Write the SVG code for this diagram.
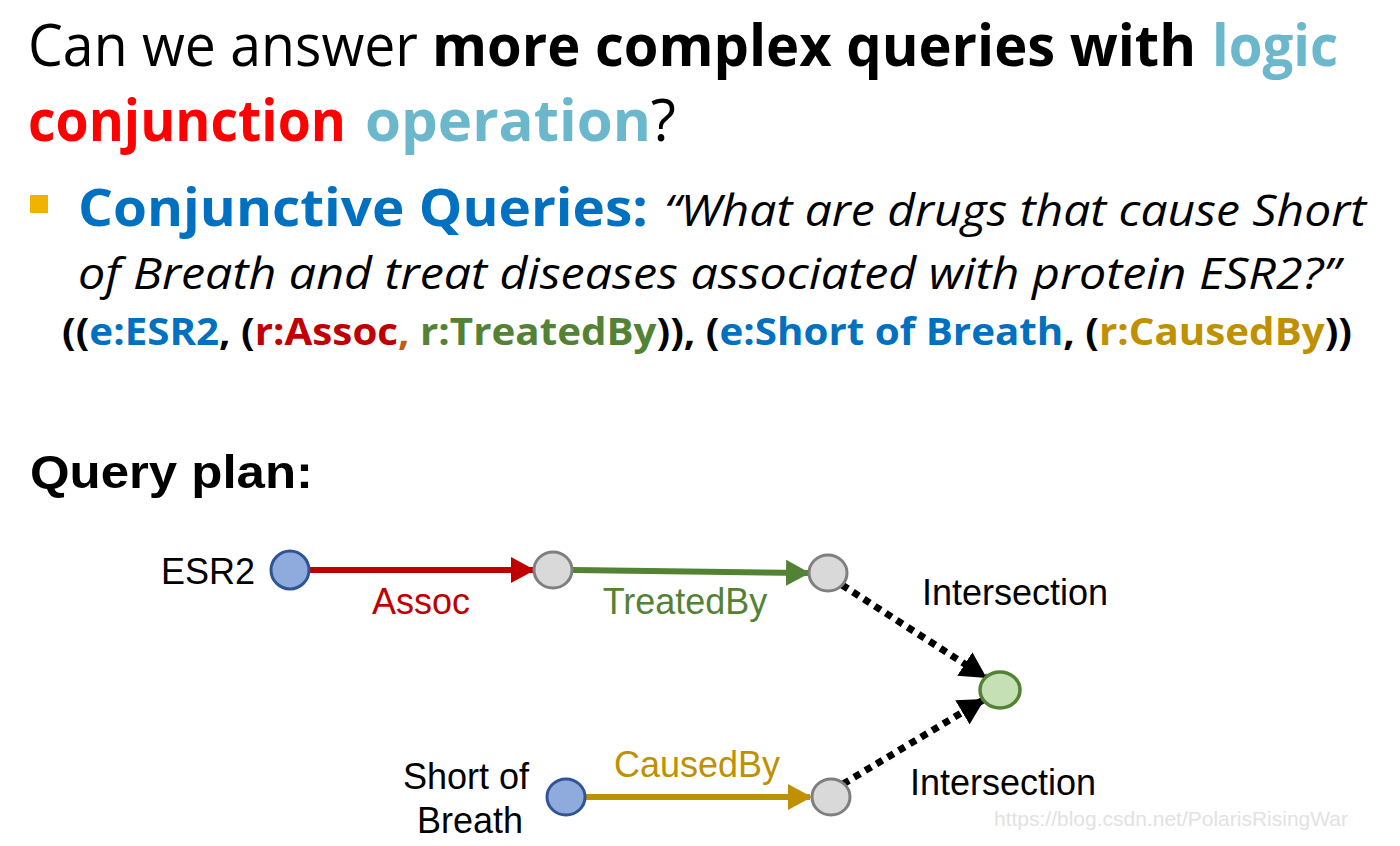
<svg xmlns="http://www.w3.org/2000/svg" width="1400" height="846" viewBox="0 0 1400 846">
<defs>
<style>
.t{font-family:"Open Sans","Lato","Liberation Sans",sans-serif}
.a{font-family:"Liberation Sans",Arial,sans-serif;font-size:36px}
.b{font-weight:bold}
.node-blue{fill:#8faadc;stroke:#2f5597;stroke-width:3}
.node-gray{fill:#d9d9d9;stroke:#7f7f7f;stroke-width:3}
.node-green{fill:#c5e0b4;stroke:#548235;stroke-width:3.5}
</style>
<marker id="mr" markerUnits="userSpaceOnUse" markerWidth="24" markerHeight="26" refX="22" refY="13" orient="auto"><path d="M0,0 L24,13 L0,26 Z" fill="#c00000"/></marker>
<marker id="mg" markerUnits="userSpaceOnUse" markerWidth="24" markerHeight="26" refX="22" refY="13" orient="auto"><path d="M0,0 L24,13 L0,26 Z" fill="#548235"/></marker>
<marker id="my" markerUnits="userSpaceOnUse" markerWidth="24" markerHeight="26" refX="22" refY="13" orient="auto"><path d="M0,0 L24,13 L0,26 Z" fill="#bf9000"/></marker>
<marker id="mk" markerUnits="userSpaceOnUse" markerWidth="26" markerHeight="28" refX="24" refY="14" orient="auto"><path d="M0,0 L26,14 L0,28 Z" fill="#000"/></marker>
</defs>
<rect width="1400" height="846" fill="#fff"/>

<g id="title">
<text class="t" x="28" y="66" font-size="58" textLength="390" lengthAdjust="spacingAndGlyphs">Can we answer</text>
<text class="t b" x="432" y="66" font-size="58" textLength="764" lengthAdjust="spacingAndGlyphs">more complex queries with</text>
<text class="t b" x="1212" y="66" font-size="58" fill="#6bb7cb" textLength="126" lengthAdjust="spacingAndGlyphs">logic</text>
<text class="t b" x="28" y="141" font-size="58" fill="#ff0000" textLength="318" lengthAdjust="spacingAndGlyphs">conjunction</text>
<text class="t b" x="365" y="141" font-size="58" fill="#6bb7cb" textLength="311" lengthAdjust="spacingAndGlyphs">operation<tspan fill="#000" font-weight="normal">?</tspan></text>
</g>

<g id="bullet">
<rect x="30" y="195" width="18" height="18" fill="#f0b400"/>
<text class="t b" x="78" y="226" font-size="52" fill="#0070c0" textLength="570" lengthAdjust="spacingAndGlyphs">Conjunctive Queries:</text>
<text class="t" x="664" y="226" font-size="44" font-style="italic" textLength="702" lengthAdjust="spacingAndGlyphs">“What are drugs that cause Short</text>
<text class="t" x="78" y="289" font-size="44" font-style="italic" textLength="1262" lengthAdjust="spacingAndGlyphs">of Breath and treat diseases associated with protein ESR2?”</text>
<text class="t b" x="62" y="345" font-size="38" textLength="1290" lengthAdjust="spacingAndGlyphs">((<tspan fill="#0070c0">e:ESR2</tspan>, (<tspan fill="#c00000">r:Assoc</tspan><tspan fill="#c55a11">,</tspan> <tspan fill="#548235">r:TreatedBy</tspan>)), (<tspan fill="#0070c0">e:Short of Breath</tspan>, (<tspan fill="#bf9000">r:CausedBy</tspan>))</text>
</g>

<text id="queryplan" x="30" y="488" font-family="Liberation Sans,Arial,sans-serif" font-weight="bold" font-size="46" textLength="283" lengthAdjust="spacingAndGlyphs">Query plan:</text>

<g id="connectors">
<line x1="310" y1="570" x2="533" y2="570" stroke="#c00000" stroke-width="6" marker-end="url(#mr)"/>
<line x1="573" y1="570" x2="808" y2="573" stroke="#548235" stroke-width="6" marker-end="url(#mg)"/>
<line x1="585" y1="797" x2="810" y2="797" stroke="#bf9000" stroke-width="6" marker-end="url(#my)"/>
<line x1="842" y1="585" x2="985" y2="677" stroke="#000" stroke-width="7" stroke-dasharray="7 6" marker-end="url(#mk)"/>
<line x1="843" y1="784" x2="983" y2="700" stroke="#000" stroke-width="7" stroke-dasharray="7 6" marker-end="url(#mk)"/>
<text class="a" x="421" y="614" text-anchor="middle" fill="#c00000">Assoc</text>
<text class="a" x="685" y="614" text-anchor="middle" fill="#548235">TreatedBy</text>
<text class="a" x="697" y="777" text-anchor="middle" fill="#bf9000">CausedBy</text>
</g>

<g id="n-esr2">
<circle class="node-blue" cx="290" cy="570" r="19"/>
<text class="a" x="255" y="584" text-anchor="end">ESR2</text>
</g>
<g id="n-mid1"><ellipse class="node-gray" cx="553" cy="570" rx="19" ry="18"/></g>
<g id="n-mid2">
<ellipse class="node-gray" cx="828" cy="573" rx="19" ry="18"/>
</g>
<g id="n-result">
<ellipse class="node-green" cx="1000" cy="690" rx="20" ry="18"/>
<text class="a" x="1015" y="605" text-anchor="middle">Intersection</text>
</g>
<g id="n-sob">
<ellipse class="node-blue" cx="566" cy="797" rx="19" ry="18"/>
<text class="a" x="466" y="789" text-anchor="middle">Short of</text>
<text class="a" x="470" y="833" text-anchor="middle">Breath</text>
</g>
<g id="n-mid3">
<ellipse class="node-gray" cx="831" cy="797" rx="19" ry="18"/>
<text class="a" x="1003" y="795" text-anchor="middle">Intersection</text>
</g>
<text x="1348" y="826" text-anchor="end" font-family="Liberation Sans,Arial,sans-serif" font-size="21" fill="#e2e2e2">https://blog.csdn.net/PolarisRisingWar</text>
</svg>
